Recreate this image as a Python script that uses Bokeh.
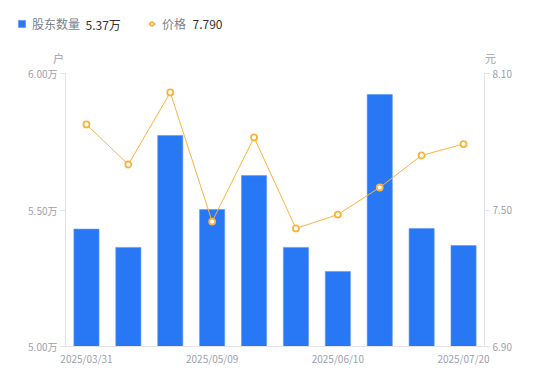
from bokeh.plotting import figure
from bokeh.models import (Range1d, LinearAxis, FixedTicker, PrintfTickFormatter,
                          Label, Legend, LegendItem, ColumnDataSource)
from bokeh.embed import file_html
from bokeh.resources import INLINE

dates = ["2025/03/31", "2025/04/10", "2025/04/21", "2025/05/09", "2025/05/20",
         "2025/05/30", "2025/06/10", "2025/06/20", "2025/06/30", "2025/07/20"]
holders = [5.43, 5.363, 5.773, 5.502, 5.626, 5.363, 5.275, 5.923, 5.432, 5.37]
prices = [7.876, 7.70, 8.017, 7.449, 7.819, 7.419, 7.480, 7.599, 7.740, 7.790]
shown_dates = [0, 3, 6, 9]
left_ticks = [5.0, 5.5, 6.0]
right_ticks = [6.9, 7.5, 8.1]

FONT = "Noto Sans CJK SC"
GRAY = "#9ea0ad"
AXIS = "#e3e3e8"

n = len(dates)
xs = [i + 0.5 for i in range(n)]
src = ColumnDataSource(data=dict(x=xs, holders=holders, prices=prices))

W, H = 550, 381
FL, FR, FT, FB = 65, 484, 73, 346          # plot area in page pixels
ux = (FR - FL) / n                          # px per category
uy = (FB - FT) / (left_ticks[-1] - left_ticks[0])
uyr = (FB - FT) / (right_ticks[-1] - right_ticks[0])

x_rng = Range1d(-FL / ux, (W - FL) / ux)
y_rng = Range1d(left_ticks[0] - (H - FB) / uy, left_ticks[-1] + FT / uy)
r_rng = Range1d(right_ticks[0] - (H - FB) / uyr, right_ticks[-1] + FT / uyr)

p = figure(frame_width=W, frame_height=H, output_backend="svg", toolbar_location=None,
           x_range=x_rng, y_range=y_rng, min_border=0,
           min_border_left=0, min_border_right=0, min_border_top=0, min_border_bottom=0)
p.title.visible = False
p.outline_line_color = None
p.grid.visible = False
p.background_fill_color = "white"
p.border_fill_color = "white"

p.extra_y_ranges = {"price": r_rng}

bars = p.vbar(x="x", top="holders", bottom=left_ticks[0], width=0.6, source=src,
              fill_color="#2878f5", line_color="#5b97f5", line_width=0.6)
ln = p.line(x="x", y="prices", source=src, y_range_name="price",
            line_color="#fbb33b", line_width=1)
pts = p.scatter(x="x", y="prices", source=src, y_range_name="price", size=6,
                fill_color="white", line_color="#fbb33b", line_width=1.8)

def style(ax, ticks_out):
    ax.axis_line_color = AXIS
    ax.major_tick_line_color = AXIS if ticks_out else None
    ax.major_tick_out = ticks_out
    ax.major_tick_in = 0
    ax.minor_tick_line_color = None
    ax.major_label_text_color = GRAY
    ax.major_label_text_font = FONT
    ax.major_label_text_font_size = "10px"

xa = p.xaxis[0]
xa.ticker = FixedTicker(ticks=[xs[i] for i in shown_dates])
xa.major_label_overrides = {xs[i]: dates[i] for i in shown_dates}
xa.fixed_location = left_ticks[0]
xa.bounds = (0, n)
style(xa, 0)
xa.major_label_standoff = 4

ya = p.yaxis[0]
ya.ticker = FixedTicker(ticks=left_ticks)
ya.formatter = PrintfTickFormatter(format="%.2f万")
ya.fixed_location = 0
ya.bounds = (left_ticks[0], left_ticks[-1])
style(ya, 5)
ya.major_label_standoff = 3

ra = LinearAxis(y_range_name="price", ticker=FixedTicker(ticks=right_ticks),
                formatter=PrintfTickFormatter(format="%.2f"))
ra.fixed_location = n
ra.bounds = (right_ticks[0], right_ticks[-1])
style(ra, 5)
ra.major_label_standoff = 3
p.add_layout(ra, "right")

def dx(px):
    return (px - FL) / ux
def dy(py):
    return left_ticks[0] + (FB - py) / uy

def lab(text, px, py, color, size="11px", align="left"):
    p.add_layout(Label(x=dx(px), y=dy(py), text=text, text_color=color,
                       text_font=FONT, text_font_size=size, text_align=align,
                       text_baseline="middle"))

lab("户", 58, 57, GRAY, "11px", "center")
lab("元", 490, 57, GRAY, "11px", "center")
lab("5.37万", 85, 24, "#333333", "12px")
lab("7.790", 192, 24, "#333333", "12px")

legend = Legend(items=[LegendItem(label="股东数量", renderers=[bars]),
                       LegendItem(label="价格", renderers=[ln, pts])],
                orientation="horizontal", location=(17, H - 32),
                padding=0, margin=0, spacing=0, border_line_alpha=0,
                background_fill_alpha=0, glyph_width=9, glyph_height=9,
                label_standoff=6, label_width=115, label_height=14,
                label_text_font=FONT, label_text_font_size="12px",
                label_text_color="#7d7f8c")
p.add_layout(legend, "center")

open("out.html", "w").write(file_html(p, INLINE))
